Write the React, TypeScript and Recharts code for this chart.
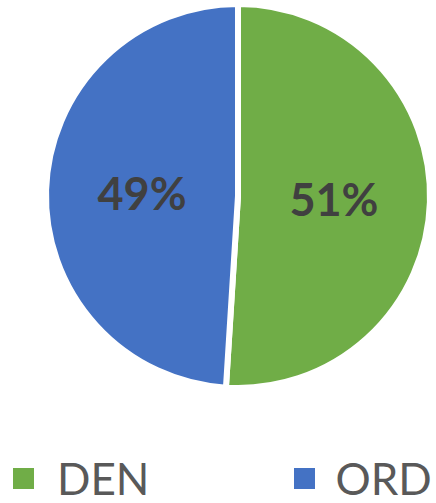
import { PieChart, Pie, Cell, Legend } from "recharts";

const names = ["DEN", "ORD"];
const shares = [51, 49];
const COLORS = ["#70AD47", "#4472C4"];

const data = names.map((name, i) => ({ name, value: shares[i] }));

const RADIAN = Math.PI / 180;

const renderLabel = ({ cx, cy, midAngle, outerRadius, value }: any) => {
  const r = outerRadius * 0.5;
  const x = cx + r * Math.cos(-midAngle * RADIAN);
  const y = cy + r * Math.sin(-midAngle * RADIAN);
  return (
    <text
      x={x}
      y={y}
      fill="#404040"
      textAnchor="middle"
      dominantBaseline="central"
      fontFamily="Lato, sans-serif"
      fontWeight={700}
      fontSize={45}
    >
      {`${value}%`}
    </text>
  );
};

const renderLegend = ({ payload }: any) => (
  <div style={{ display: "flex", fontFamily: "Lato, sans-serif" }}>
    {(payload || []).map((entry: any, i: number) => (
      <div
        key={entry.value}
        style={{
          display: "flex",
          alignItems: "center",
          marginLeft: i === 0 ? 13 : 145,
          color: "#595959",
          fontSize: 44,
          lineHeight: "44px",
        }}
      >
        <span
          style={{
            display: "inline-block",
            width: 21,
            height: 21,
            background: entry.color,
            marginRight: i === 0 ? 23 : 20,
          }}
        />
        {entry.value}
      </div>
    ))}
  </div>
);

export default function App() {
  return (
    <div
      style={{
        position: "absolute",
        left: 0,
        top: 0,
        width: 436,
        height: 503,
        background: "#fff",
      }}
    >
      <PieChart
        width={436}
        height={503}
        margin={{ top: 0, right: 0, bottom: 0, left: 0 }}
      >
        <Pie
          data={data}
          dataKey="value"
          nameKey="name"
          cx={238}
          cy={196}
          outerRadius={192}
          startAngle={90}
          endAngle={-270}
          stroke="#ffffff"
          strokeWidth={6}
          labelLine={false}
          label={renderLabel}
          isAnimationActive={false}
        >
          {data.map((_, i) => (
            <Cell key={i} fill={COLORS[i % COLORS.length]} />
          ))}
        </Pie>
        <Legend
          content={renderLegend}
          wrapperStyle={{ position: "absolute", top: 456, left: 0, width: 436 }}
        />
      </PieChart>
    </div>
  );
}
